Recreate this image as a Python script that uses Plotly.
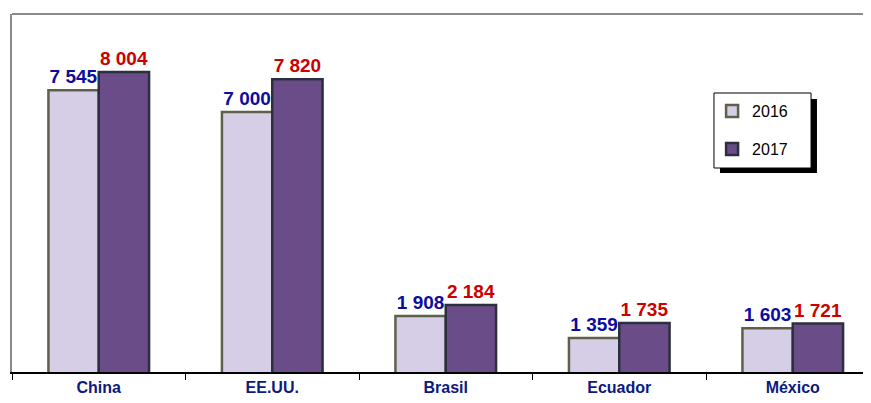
import plotly.graph_objects as go

categories = ["China", "EE.UU.", "Brasil", "Ecuador", "México"]
values_2016 = [7545, 7000, 1908, 1359, 1603]
values_2017 = [8004, 7820, 2184, 1735, 1721]
labels_2016 = ["7 545", "7 000", "1 908", "1 359", "1 603"]
labels_2017 = ["8 004", "7 820", "2 184", "1 735", "1 721"]
series_names = ["2016", "2017"]

FONT = "Liberation Sans, Arial, sans-serif"

fig = go.Figure()
fig.add_trace(go.Bar(
    x=categories, y=values_2016, name=series_names[0], legendgroup="a",
    text=labels_2016, textposition="outside", constraintext="none",
    textfont=dict(family=FONT, size=19, color="#0c0ca0", weight="bold"),
    marker=dict(color="#d6cee6", line=dict(color="#5f5f4c", width=2.5)),
))
fig.add_trace(go.Bar(
    x=categories, y=values_2017, name=series_names[1], legendgroup="b",
    text=labels_2017, textposition="outside", constraintext="none",
    textfont=dict(family=FONT, size=19, color="#cc0000", weight="bold"),
    marker=dict(color="#6a4c88", line=dict(color="#2c2f3e", width=2.5)),
))

fig.update_layout(
    width=863, height=395,
    margin=dict(l=4, r=0, t=6, b=31),
    paper_bgcolor="white", plot_bgcolor="white",
    barmode="group", bargap=0.42, bargroupgap=0,
    showlegend=True,
    legend=dict(
        x=0.815, y=0.776, xanchor="left", yanchor="top",
        bgcolor="rgba(0,0,0,0)", borderwidth=0,
        font=dict(family=FONT, size=16, color="black"),
        traceorder="grouped", tracegroupgap=14, itemwidth=30,
    ),
    xaxis=dict(
        type="category", range=[-0.5, 4.451],
        showline=True, linecolor="black", linewidth=1.5,
        ticks="outside", tickson="boundaries", ticklen=6, tickcolor="black",
        tickfont=dict(family=FONT, size=16, color="#0b1a80", weight="bold"),
        showgrid=False, zeroline=False,
    ),
    yaxis=dict(
        range=[510, 9450], showline=True, linecolor="#8a8a8a", linewidth=2,
        showticklabels=False, ticks="", showgrid=False, zeroline=False,
    ),
    shapes=[
        dict(type="line", xref="paper", yref="paper", x0=0, x1=1, y0=1, y1=1,
             line=dict(color="#8a8a8a", width=2)),
        dict(type="rect", xref="paper", yref="paper", x0=0.8242, x1=0.9371,
             y0=0.5559, y1=0.7626, fillcolor="black", line=dict(width=0)),
        dict(type="rect", xref="paper", yref="paper", x0=0.8172, x1=0.9302,
             y0=0.5698, y1=0.7793, fillcolor="white", line=dict(color="black", width=1)),
    ],
)

fig.write_html("out.html")
